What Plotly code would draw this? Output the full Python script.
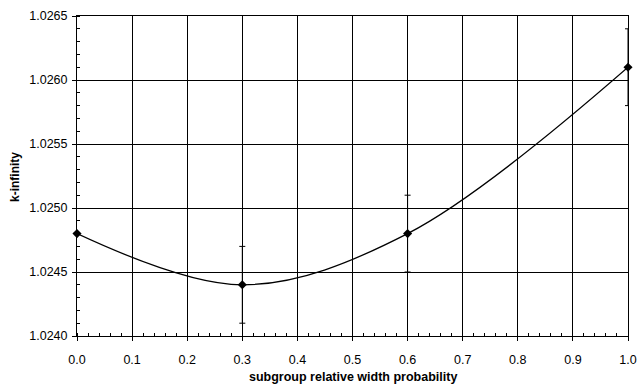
import plotly.graph_objects as go

x_vals = [0.0, 0.3, 0.6, 1.0]
k_inf = [1.0248, 1.0244, 1.0248, 1.0261]
err = [0.0, 0.0003, 0.0003, 0.0003]
y_ticks = [1.0240, 1.0245, 1.0250, 1.0255, 1.0260, 1.0265]
y_labels = ["1.0240", "1.0245", "1.0250", "1.0255", "1.0260", "1.0265"]
x_ticks = [0.0, 0.1, 0.2, 0.3, 0.4, 0.5, 0.6, 0.7, 0.8, 0.9, 1.0]
x_labels = ["0.0", "0.1", "0.2", "0.3", "0.4", "0.5", "0.6", "0.7", "0.8", "0.9", "1.0"]

fig = go.Figure()
fig.add_trace(go.Scatter(
    x=x_vals, y=k_inf, mode="lines",
    line=dict(color="black", width=1.3, shape="spline", smoothing=1.0),
    hoverinfo="skip", showlegend=False, cliponaxis=False))
fig.add_trace(go.Scatter(
    x=x_vals, y=k_inf, mode="markers",
    marker=dict(symbol="diamond", size=7, color="black"),
    error_y=dict(type="data", array=err, visible=True, color="black", thickness=1, width=3),
    showlegend=False, cliponaxis=False))

font = "Liberation Sans, Arial, sans-serif"
L, R, T, B = 77, 11, 16, 49
fig.update_layout(
    width=639, height=385,
    margin=dict(l=L, r=R, t=T, b=B, autoexpand=False),
    paper_bgcolor="white", plot_bgcolor="white",
    font=dict(family=font, size=12.5, color="black"),
    xaxis=dict(
        range=[0, 1], tickvals=x_ticks, ticktext=x_labels, automargin=False,
        showgrid=True, gridcolor="black", gridwidth=1,
        showline=True, linecolor="black", linewidth=1, mirror=True,
        ticks="outside", ticklen=4, tickcolor="black", ticklabelstandoff=8,
        ticklabeloverflow="allow",
        minor=dict(dtick=0.02, ticks="inside", ticklen=3, tickcolor="black", showgrid=False),
        zeroline=False,
    ),
    yaxis=dict(
        range=[1.0240, 1.0265], tickvals=y_ticks, ticktext=y_labels, automargin=False,
        showgrid=True, gridcolor="black", gridwidth=1,
        showline=True, linecolor="black", linewidth=1, mirror=True,
        ticks="outside", ticklen=4, tickcolor="black", ticklabelstandoff=2,
        ticklabeloverflow="allow",
        minor=dict(dtick=0.0001, ticks="inside", ticklen=3, tickcolor="black", showgrid=False),
        zeroline=False,
    ),
    annotations=[
        dict(text="<b>subgroup relative width probability</b>", xref="paper", yref="paper",
             x=0.5, y=-41/320, xanchor="center", yanchor="middle", showarrow=False,
             font=dict(size=12.5)),
        dict(text="<b>k-infinity</b>", xref="paper", yref="paper",
             x=-62/551, y=(336-177)/320, xanchor="center", yanchor="middle", textangle=-90,
             showarrow=False, font=dict(size=12)),
    ],
)
fig.write_html(
    "out.html",
    config={"displayModeBar": False},
    post_script="document.body.style.margin='0px';document.body.style.overflow='hidden';",
)
